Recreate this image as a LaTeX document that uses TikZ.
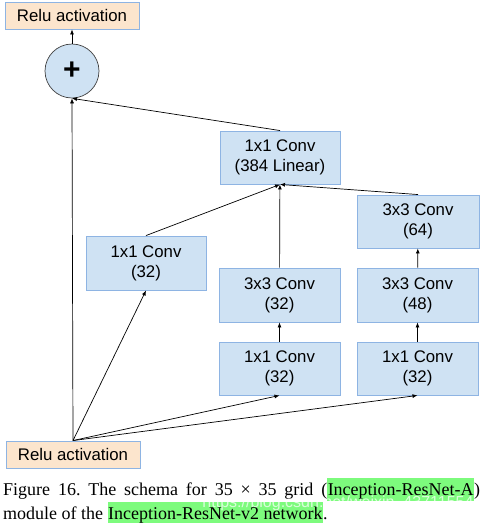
\documentclass[tikz,border=0pt]{standalone}
\usepackage{fontspec}
\setmainfont{Liberation Serif}
\setsansfont{Liberation Sans}
\usetikzlibrary{arrows.meta}
\frenchspacing
\definecolor{boxfill}{HTML}{CFE2F3}
\definecolor{boxline}{HTML}{8EB4E3}
\definecolor{relufill}{HTML}{FCE5CD}
\definecolor{hlgreen}{HTML}{7DFB7D}
\newcommand{\hlbox}[1]{{\setlength{\fboxsep}{0pt}\colorbox{hlgreen}{\rule[-6pt]{0pt}{23pt}\hspace{0.5pt}#1\hspace{0.5pt}}}}
\begin{document}
\begin{tikzpicture}[x=1pt,y=-1pt,
  conv/.style={draw=boxline, line width=0.9pt, fill=boxfill, inner sep=0pt, align=center,
    font=\sffamily\fontsize{16.8}{20}\selectfont},
  relu/.style={draw=boxline, line width=0.9pt, fill=relufill, inner sep=0pt,
    minimum width=134pt, minimum height=27pt, font=\sffamily\fontsize{16.8}{20}\selectfont},
  arr/.style={draw=black, line width=0.7pt, -{Latex[length=5pt,width=4pt]}}]
\useasboundingbox (0,0) rectangle (484,523);
\node[relu] (top) at (72,15.5) {Relu activation};
\node[relu] (bot) at (73,454.5) {Relu activation};
\node[circle, draw=black!75, line width=0.7pt, fill=boxfill, minimum size=54pt, inner sep=0pt,
  font=\sffamily\bfseries\fontsize{30}{30}\selectfont] (sum) at (72,71) {+};
\node[conv, minimum width=120pt, minimum height=53pt] (lin) at (280,157.5) {1x1 Conv\\(384 Linear)};
\node[conv, minimum width=122pt, minimum height=53pt] (c64) at (418,221.5) {3x3 Conv\\(64)};
\node[conv, minimum width=120pt, minimum height=54pt] (left) at (146,263) {1x1 Conv\\(32)};
\node[conv, minimum width=121pt, minimum height=54pt] (c32) at (279.5,295) {3x3 Conv\\(32)};
\node[conv, minimum width=121pt, minimum height=54pt] (c48) at (417.5,295) {3x3 Conv\\(48)};
\node[conv, minimum width=121pt, minimum height=53pt] (m1) at (279.5,368.5) {1x1 Conv\\(32)};
\node[conv, minimum width=121pt, minimum height=53pt] (r1) at (417.5,368.5) {1x1 Conv\\(32)};
\draw[arr] (bot.north) -- (sum.south);
\draw[arr] (bot.north) -- (left.south);
\draw[arr] (bot.north) -- (m1.south);
\draw[arr] (bot.north) -- (r1.south);
\draw[arr] (m1) -- (c32);
\draw[arr] (r1) -- (c48);
\draw[arr] (c48) -- (c64);
\draw[arr] (c32) -- (lin);
\draw[arr] (left.north) -- (lin.south);
\draw[arr] (c64.north) -- (lin.south);
\draw[arr] (lin.north) -- (sum.south);
\draw[arr] (sum) -- (top);
\node[anchor=north west, inner sep=0pt, text width=477pt, align=justify,
  font=\rmfamily\fontsize{18}{22}\selectfont] (cap) at (3,478)
  {Figure 16. The schema for 35 × 35 grid (\hlbox{Inception-ResNet-A})\linebreak
   module of the \hlbox{Inception-ResNet-v2 network}.};
\node[inner sep=0pt, text=white, text opacity=0.7, font=\sffamily\fontsize{16}{16}\selectfont] (wm) at (338,503.5) {https://blog.csdn.net/weixin\_43711554};
\end{tikzpicture}
\end{document}
